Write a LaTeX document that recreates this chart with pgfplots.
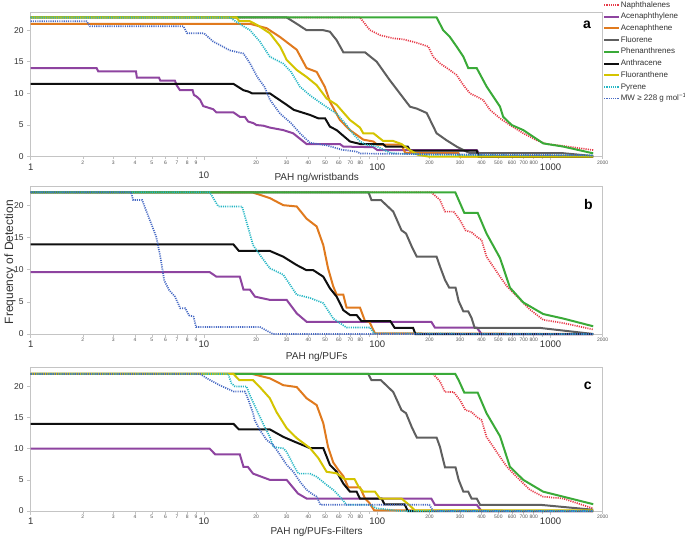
\documentclass[border=0pt]{standalone}
\usepackage{fontspec}
\setmainfont{Liberation Sans}
\usepackage{pgfplots}
\pgfplotsset{compat=1.18}
\definecolor{cNap}{RGB}{230,58,72}
\definecolor{cAcy}{RGB}{142,68,160}
\definecolor{cAce}{RGB}{224,122,30}
\definecolor{cFlu}{RGB}{95,95,95}
\definecolor{cPhe}{RGB}{58,170,56}
\definecolor{cAnt}{RGB}{15,15,15}
\definecolor{cFla}{RGB}{212,196,0}
\definecolor{cPyr}{RGB}{36,182,196}
\definecolor{cMW}{RGB}{72,106,196}
\definecolor{framec}{RGB}{196,196,196}
\definecolor{txt}{RGB}{50,50,50}
\definecolor{txtl}{RGB}{85,85,85}
\tikzset{
 sNap/.style={color=cNap,line width=1.7pt,dash pattern=on 1.1pt off 1.1pt},
 sAcy/.style={color=cAcy,line width=2pt},
 sAce/.style={color=cAce,line width=2pt},
 sFlu/.style={color=cFlu,line width=2pt},
 sPhe/.style={color=cPhe,line width=2pt},
 sAnt/.style={color=cAnt,line width=2pt},
 sFla/.style={color=cFla,line width=2pt},
 sPyr/.style={color=cPyr,line width=1.7pt,dash pattern=on 1.1pt off 1.1pt},
 sMW/.style={color=cMW,line width=1.7pt,dash pattern=on 1.1pt off 1.1pt},
}
\pgfplotsset{
 mypanel/.style={
  scale only axis, width=572pt, xmin=1, xmax=2000, ymin=0,
  clip=false, axis line style={draw=framec, line width=1pt},
  tick pos=left, tick align=outside, major tick length=3.5pt,
  tick style={draw=framec,line width=0.6pt},
  xminorticks=false,
  ytick={0,5,10,15,20}, yticklabels={0,5,10,15,20},
  yticklabel style={font=\fontsize{8.5}{10}\selectfont, text=txt},
  xtick={1,10,100,1000},
  xticklabel style={font=\fontsize{9.5}{11}\selectfont, text=txt},
  extra x ticks={2,3,4,5,6,7,8,9,20,30,40,50,60,70,80,90,200,300,400,500,600,700,800,900,2000},
  extra x tick labels={2,3,4,5,6,7,8,9,20,30,40,50,60,70,80,,200,300,400,500,600,700,800,,2000},
  extra x tick style={major tick length=2.5pt, xticklabel style={font=\fontsize{5}{6}\selectfont, inner sep=1.2pt, text=txtl}},
  xlabel style={font=\fontsize{10}{12}\selectfont, text=txt, at={(axis description cs:0.5,0)}, anchor=center},
 },
}
\begin{document}
\begin{tikzpicture}
\useasboundingbox (0pt,0pt) rectangle (685pt,-538pt);
\node[rotate=90, font=\fontsize{12}{14}\selectfont, text=txt] at (10pt,-262pt) {Frequency of Detection};
% ---------------- panel a
\begin{semilogxaxis}[mypanel, at={(30.7pt,-156.7pt)}, anchor=south west, height=144pt, ymax=22.75,
  xlabel={PAH ng/wristbands}, xlabel style={yshift=-21.3pt}, xticklabels={1,,100,1000},
  legend cell align=left,
  legend style={at={(0.9953,1.100)}, anchor=north west, draw=none, fill=none,
    font=\fontsize{8}{9}\selectfont, text=txt, row sep=2.7pt,
    nodes={inner sep=0.6pt, text height=6pt, text depth=1.8pt}},
  legend image code/.code={\draw[#1] (0pt,0pt) -- (15pt,0pt);}]
\addplot[sNap] coordinates {(1,22)(79.5,22)(90.7,20)(103.7,19.2)(123.7,18.7)(141,18.55)(169,18)(197,17.4)(210,15.8)(230,14.75)(262,13.7)(287,12.9)(314,11.3)(343,10)(375,9.5)(409,8.95)(447,7.4)(511,6.06)(583,5)(696,3.7)(831,2.6)(949,2)(1184,1.7)(1763,1.05)};
\addlegendentry{Naphthalenes}
\addplot[sAcy] coordinates {(1,14)(2.4,14)(2.45,13.5)(4.05,13.5)(4.1,12.5)(5.5,12.5)(5.6,12)(6.8,12)(6.95,11.3)(7.27,10.5)(8.6,10.5)(8.75,9.75)(9.07,9.5)(9.5,9)(9.9,8)(11.3,7.5)(11.8,7)(14.8,7)(16.1,6.3)(17.2,6.3)(18,5.55)(19.3,5.3)(20.1,5)(22,4.9)(24,4.6)(28.7,4.2)(32.7,3.7)(39.1,2)(60.9,2)(63.7,1.6)(95,1.5)(100,1.05)(375,1.05)(400,0)(1763,0)};
\addlegendentry{Acenaphthylene}
\addplot[sAce] coordinates {(1,21)(18.4,21)(23,20.3)(27.5,18.9)(34.3,16.9)(39.1,14)(44.7,13.4)(49.9,11)(53.3,8.7)(60.9,5.8)(69.6,4.2)(83,2.7)(95,2.4)(100,1.9)(138,1.9)(145,0.6)(294,0.6)(300,0)(1763,0)};
\addlegendentry{Acenaphthene}
\addplot[sFlu] coordinates {(1,22)(30,22)(34.3,21)(39,20)(48.6,20)(53.3,19.75)(58.3,18.4)(63.7,16.5)(84.9,16.5)(99.3,15)(118,12.1)(135,10)(154.5,7.9)(169,7.6)(193,6.9)(220,3.7)(251,2.6)(287,1.6)(314,1.05)(343,0.55)(1184,0.55)(1763,0.1)};
\addlegendentry{Fluorene}
\addplot[sPhe] coordinates {(1,22)(220,22)(240,20)(262,18.95)(287,17.4)(314,15.8)(335,14)(375,14)(428,11.06)(511,7.9)(533,6.3)(597,5)(696,4.2)(907,2.1)(1184,1.6)(1763,0.53)};
\addlegendentry{Phenanthrenes}
\addplot[sAnt] coordinates {(1,11.5)(14.8,11.5)(16.9,10.5)(18,10.3)(19,10)(24,10)(30,8.2)(33,7.4)(40.9,6.6)(45.7,6.06)(50,6.06)(53.3,4.75)(58.3,4.2)(69.6,2.4)(80,2)(108,2)(112,1.6)(150,1.6)(155,0.95)(375,0.95)(385,0)(1763,0)};
\addlegendentry{Anthracene}
\addplot[sFla] coordinates {(1,22)(15.4,22)(16,21.4)(18.4,21.4)(20.3,20.8)(24,19.5)(27.5,17.4)(30,15.3)(34.3,13.7)(39.1,12.6)(44.7,11.3)(51,9.2)(58.3,8.2)(69.6,5.8)(79.5,4.6)(83,3.7)(95,3.7)(108,2.5)(123,2.5)(138,2)(154,1.05)(172,0.3)(200,0)(1763,0)};
\addlegendentry{Fluoranthene}
\addplot[sPyr] coordinates {(1,22)(14.1,22)(16,21)(18.4,20)(21,18.2)(24,15.8)(28.7,14.7)(31.8,13.4)(35.8,11.06)(40.9,9.7)(48.8,8.2)(58.3,6.8)(66.5,5)(69.6,4.2)(79.5,2.4)(86,1.9)(100,1.6)(120,0.55)(200,0.3)(1763,0.2)};
\addlegendentry{Pyrene}
\addplot[sMW] coordinates {(1,21.4)(2.1,21.4)(2.2,20.6)(7.6,20.6)(8,19.5)(10,19.5)(11.3,18.2)(14.1,16.8)(16.9,16.3)(18.4,14.8)(20.3,12.6)(22.4,11)(24,9)(27.5,6.8)(31.8,5.3)(35.8,3.7)(40.9,2.2)(51,1.8)(62.5,1.1)(76,0.8)(80,0.5)(1763,0.2)};
\addlegendentry{MW ≥ 228 g mol\textsuperscript{−1}}
\node[font=\bfseries\fontsize{14}{16}\selectfont, anchor=base] at (rel axis cs:0.9726,0.887) {a};
\node[font=\fontsize{9.5}{11}\selectfont, text=txt, yshift=-19pt] at (axis cs:10,0) {10};
\end{semilogxaxis}
% ---------------- panel b
\begin{semilogxaxis}[mypanel, at={(30.7pt,-334pt)}, anchor=south west, height=147.3pt, ymax=22.87,
  xticklabels={1,10,100,1000},
  xlabel={PAH ng/PUFs}, xlabel style={yshift=-23pt}]
\addplot[sNap] coordinates {(1,22)(205,22)(230,20.8)(246,19)(276,19)(300,17.7)(323,16.1)(350,15.8)(375,15.1)(400,14.6)(427,12)(511,8.9)(560,7.4)(636,5.9)(760,3.8)(907,2.2)(1184,1.7)(1763,0.7)};
\addplot[sAcy] coordinates {(1,9.6)(10.8,9.6)(11.8,8.9)(16.1,8.9)(16.9,6.9)(18.4,6.9)(19.7,5.8)(24,5.3)(30,5.3)(34.3,3.2)(39.1,1.9)(205,1.9)(215,1)(375,1)(400,0)(1763,0)};
\addplot[sAce] coordinates {(1,22)(19,22)(24,21.1)(28.7,20)(34.3,19.8)(39.1,17.9)(44.7,16.7)(48.8,13.8)(52,10.2)(55.7,7.4)(58.3,6.1)(63.7,6.1)(66.5,4.1)(79.5,4.1)(85,2)(90,1.9)(97,0.1)(1763,0)};
\addplot[sFlu] coordinates {(1,22)(89,22)(92.6,20.8)(105,20.8)(123.7,19)(138,16.1)(146.6,15.6)(158,13.6)(169,12)(220,12)(230,10.5)(246,8.4)(260,7.2)(283,7.2)(295,5.1)(314,3.5)(335,3.5)(350,2.5)(365,0.95)(866,0.95)(1763,0)};
\addplot[sPhe] coordinates {(1,22)(282,22)(295,20.8)(318,18.8)(380,18.8)(427,15.6)(511,11.8)(583,7.2)(696,4.9)(907,3.1)(1184,2.4)(1763,1.2)};
\addplot[sAnt] coordinates {(1,13.9)(14.8,13.9)(15.9,12.9)(24,12.9)(28.7,12)(34.3,10.7)(39.1,9.9)(42.8,9.9)(48.8,8.9)(53.3,7.1)(58.3,5.8)(63.7,3.7)(69.6,2.95)(76,2.95)(81,2)(119,2)(126,0.95)(161,0.95)(166,0)(1763,0)};
\addplot[sPyr] coordinates {(1,22)(10.8,22)(12.1,19.8)(16.6,19.8)(17.6,17.4)(19.2,13.8)(21,12.3)(24,10.2)(28.7,9.2)(34.3,6.1)(40.9,5.6)(48.8,4.8)(55.7,2.4)(66.5,1)(91,1)(96,0.1)(1763,0)};
\addplot[sMW] coordinates {(1,22)(3.8,22)(3.9,20.8)(4.4,20.8)(4.6,19.4)(5,16.9)(5.3,15.1)(5.6,12)(5.9,8.3)(6.3,6.8)(6.8,5.8)(7.3,4)(7.8,4)(8.2,2.9)(8.7,2.7)(9,1.1)(21,1.1)(25,0)(1763,0)};
\node[font=\bfseries\fontsize{14}{16}\selectfont, anchor=base] at (rel axis cs:0.975,0.847) {b};
\end{semilogxaxis}
% ---------------- panel c
\begin{semilogxaxis}[mypanel, at={(30.7pt,-511pt)}, anchor=south west, height=143.7pt, ymax=23.07,
  xticklabels={1,10,100,1000},
  xlabel={PAH ng/PUFs-Filters}, xlabel style={yshift=-20.7pt}]
\addplot[sNap] coordinates {(1,22)(210,22)(230,20.8)(246,19.1)(276,19.1)(300,17.8)(323,16.2)(350,15.9)(375,15.1)(400,14.6)(427,11.9)(511,8.7)(560,7.1)(636,5.5)(760,3.4)(907,2.3)(1184,2)(1763,0.4)};
\addplot[sAcy] coordinates {(1,10)(10.8,10)(11.6,9.1)(16.1,9.1)(16.9,7.1)(17.9,7.1)(19.2,6)(24,5)(30,5)(34.9,2.8)(39.1,2)(205,2)(215,1)(375,1)(400,0)(1763,0)};
\addplot[sAce] coordinates {(1,22)(19,22)(24,21.3)(28.7,20.2)(34.3,19.9)(39.1,18.1)(44.7,17)(48.8,14.1)(52,10.3)(55.7,7.8)(59.6,6.6)(63.7,5.6)(68,3.8)(79.5,3.8)(85,2)(90,1.3)(96,0.1)(1763,0)};
\addplot[sFlu] coordinates {(1,22)(88.7,22)(92.6,21)(105,21)(123.7,19.1)(138,16.2)(146.6,15.7)(158,13.5)(169,11.8)(220,11.8)(230,10.3)(246,7)(283,7)(295,5)(314,3.1)(335,3.1)(350,2)(375,2)(392,1)(868,1)(1763,0.2)};
\addplot[sPhe] coordinates {(1,22)(282,22)(295,21)(318,19)(380,19)(427,15.7)(511,12)(583,7.1)(696,5)(907,3.1)(1184,2.3)(1763,1.1)};
\addplot[sAnt] coordinates {(1,14)(14.8,14)(15.9,13.1)(24,13.1)(28.7,11.9)(33.5,11.1)(40.9,10.1)(48.8,10.1)(53.3,7.4)(58.3,6.3)(63.7,4.4)(69.6,3.1)(76,3.1)(79.5,2)(106,2)(110,1.06)(144,1.06)(150,0)(1763,0)};
\addplot[sFla] coordinates {(1,22)(14.8,22)(16,21)(19.2,21)(21,19.9)(24,18.1)(26.2,15.9)(30,13.3)(34.3,11.7)(40.9,10.1)(45.7,8.5)(51,6.3)(58.3,6.05)(65,5.1)(74,5.1)(78,3.9)(83,3.1)(97,3.1)(103.7,2)(138,2)(151,1.1)(165,0.1)(1763,0.1)};
\addplot[sPyr] coordinates {(1,22)(13.8,22)(14.4,20.5)(15.1,20)(17.6,20)(18.4,18.6)(20.3,16)(22.4,13.5)(24,11.9)(25.1,10.3)(28.7,10.05)(30,9.5)(32.8,7.4)(35,6)(40.9,6)(44.7,5.5)(51,4.2)(55.7,3.4)(60.9,2.3)(66.5,1)(91,1)(99,0.43)(135,0)(1763,0)};
\addplot[sMW] coordinates {(1,22)(9.5,22)(10.4,21.3)(12.3,20.2)(14.8,19.2)(17.2,19.2)(17.9,18.1)(19.2,15.7)(19.6,14.6)(21,13)(23,11.4)(25.1,10.6)(27.5,9)(30,7.4)(32.8,6.3)(35.8,4.7)(39.1,3.4)(42.8,2.6)(44.7,2.3)(47,1)(200,1)(210,0)(1763,0)};
\node[font=\bfseries\fontsize{14}{16}\selectfont, anchor=base] at (rel axis cs:0.974,0.849) {c};
\end{semilogxaxis}
\end{tikzpicture}
\end{document}
